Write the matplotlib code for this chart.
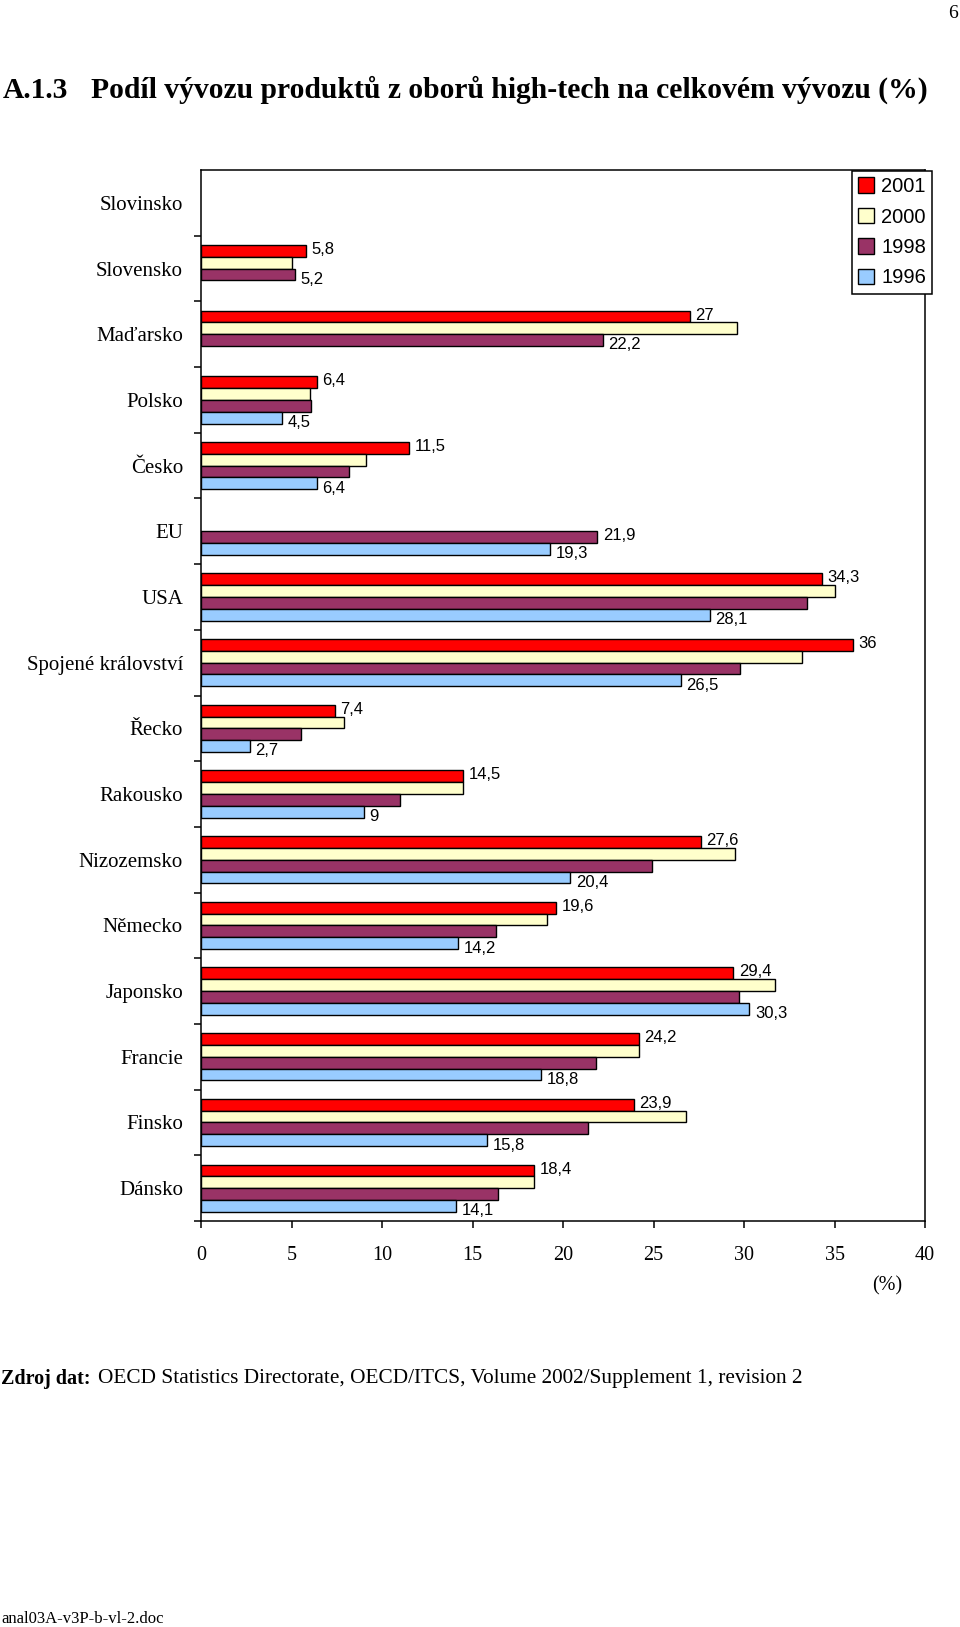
import numpy as np
import matplotlib
matplotlib.use('Agg')
import matplotlib.pyplot as plt

# data (nan = no bar)
countries = ['Slovinsko', 'Slovensko', 'Maďarsko', 'Polsko', 'Česko', 'EU', 'USA',
             'Spojené království', 'Řecko', 'Rakousko', 'Nizozemsko', 'Německo',
             'Japonsko', 'Francie', 'Finsko', 'Dánsko']
years = ['2001', '2000', '1998', '1996']
nan = np.nan
v2001 = [nan, 5.8, 27.0, 6.4, 11.5, nan, 34.3, 36.0, 7.4, 14.5, 27.6, 19.6, 29.4, 24.2, 23.9, 18.4]
v2000 = [nan, 5.0, 29.6, 6.0, 9.1, nan, 35.0, 33.2, 7.9, 14.5, 29.5, 19.1, 31.7, 24.2, 26.8, 18.4]
v1998 = [nan, 5.2, 22.2, 6.1, 8.2, 21.9, 33.5, 29.8, 5.5, 11.0, 24.9, 16.3, 29.7, 21.8, 21.4, 16.4]
v1996 = [nan, nan, nan, 4.5, 6.4, 19.3, 28.1, 26.5, 2.7, 9.0, 20.4, 14.2, 30.3, 18.8, 15.8, 14.1]
colors = ['#FF0000', '#FFFFCC', '#993366', '#99CCFF']

series = [v2001, v2000, v1998, v1996]

W, H = 960, 1627
fig = plt.figure(figsize=(W / 100, H / 100), dpi=100)
serif = 'Liberation Serif'
sans = 'Liberation Sans'

ax = fig.add_axes([201 / W, 1 - 1221 / H, (925 - 201) / W, (1221 - 170) / H])

y = np.arange(len(countries))
h = 0.18
for k, (vals, col, yr) in enumerate(zip(series, colors, years)):
    ax.barh(y + (k - 1.5) * h, vals, height=h, color=col, edgecolor='black',
            linewidth=1.0, label=yr)

# value labels: first and last available bar of each country
for i in range(len(countries)):
    avail = [k for k in range(4) if not np.isnan(series[k][i])]
    if not avail:
        continue
    for j, k in enumerate([avail[0], avail[-1]]):
        v = series[k][i]
        dy = 1 if j == 0 else -3.5
        ax.annotate(f'{v:g}'.replace('.', ','), (v, y[i] + (k - 1.5) * h),
                    xytext=(4, dy), textcoords='offset points', va='center',
                    ha='left', fontsize=12, family=sans)

ax.set_xlim(0, 40)
ax.set_ylim(len(countries) - 0.5, -0.5)
ax.set_xticks(np.arange(0, 41, 5))
ax.set_xticklabels([str(t) for t in range(0, 41, 5)], family=serif, fontsize=14.5)
ax.tick_params(axis='x', direction='out', length=5, width=1.1, pad=13)
ax.set_yticks(np.arange(0.5, len(countries), 1.0))
ax.set_yticklabels([])
ax.set_yticks(y, minor=True)
ax.set_yticklabels(countries, minor=True, family=serif, fontsize=15)
ax.tick_params(axis='y', which='major', direction='out', length=5, width=1.1)
ax.tick_params(axis='y', which='minor', length=0, pad=13)
for s in ax.spines.values():
    s.set_linewidth(1.1)

leg = fig.legend(loc='upper right', bbox_to_anchor=(932 / W, 1 - 171 / H),
                 prop={'family': sans, 'size': 14.5}, handlelength=0.8,
                 handleheight=0.8, handletextpad=0.35, labelspacing=0.57,
                 borderpad=0.3, borderaxespad=0, fancybox=False, framealpha=1)
leg.get_frame().set_edgecolor('black')
leg.get_frame().set_linewidth(1.1)

# page texts
fig.text(3 / W, 1 - 90 / H, 'A.1.3', family=serif, weight='bold', fontsize=21.3, va='center')
fig.text(91 / W, 1 - 90 / H, 'Podíl vývozu produktů z oborů high-tech na celkovém vývozu (%)',
         family=serif, weight='bold', fontsize=21.3, va='center')
fig.text(953 / W, 1 - 14 / H, '6', family=serif, fontsize=14, ha='center', va='center')
fig.text(887 / W, 1 - 1286 / H, '(%)', family=serif, fontsize=14.5, ha='center', va='center')
fig.text(1 / W, 1 - 1379 / H, 'Zdroj dat:', family=serif, weight='bold', fontsize=14.5, va='center')
fig.text(98 / W, 1 - 1379 / H,
         'OECD Statistics Directorate, OECD/ITCS, Volume 2002/Supplement 1, revision 2',
         family=serif, fontsize=15.3, va='center')
fig.text(1 / W, 1 - 1619 / H, 'anal03A-v3P-b-vl-2.doc', family=serif, fontsize=12, va='center')

fig.savefig('out.png', dpi=100)
